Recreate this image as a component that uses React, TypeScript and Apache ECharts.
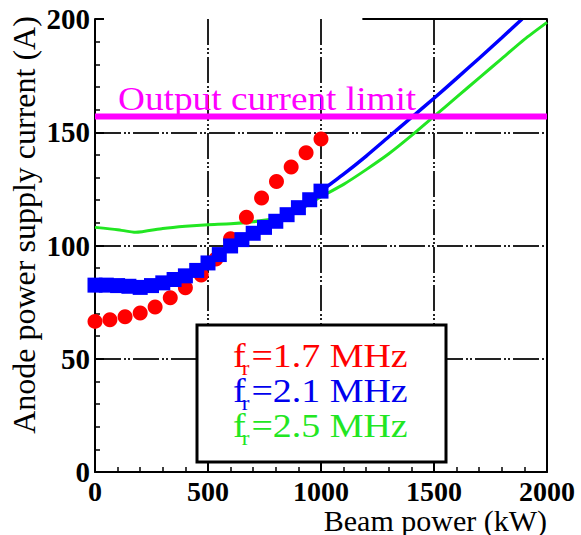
import React, { useEffect, useRef } from "react";
import * as echarts from "echarts";

// ---- data ----
const xTicks = [0, 500, 1000, 1500, 2000];
const yTicks = [0, 50, 100, 150, 200];

const redX = [0, 66, 133, 200, 266, 333, 400, 470, 535, 600, 670, 737, 803, 868, 934, 1000];
const redY = [66.5, 67.2, 68.5, 70.2, 72.9, 76.9, 81.3, 87, 94, 103, 112.5, 121, 128.3, 134.7, 141, 147];

const blueSqX = [0, 50, 100, 150, 200, 250, 300, 350, 400, 450, 500, 550, 600, 650, 700, 750, 800, 850, 900, 950, 1000];
const blueSqY = [82.5, 82.5, 82.3, 82, 81.5, 82.3, 83.5, 85, 86.6, 89, 92.3, 96, 99.8, 102.6, 105.4, 108, 110.7, 113.6, 116.7, 120.2, 124];

const blueLineX = [1000, 1100, 1200, 1300, 1400, 1500, 1600, 1700, 1800, 1890];
const blueLineY = [124, 131.5, 139.5, 148, 156.5, 165, 173.8, 182.7, 191.7, 200];

const greenX = [0, 100, 180, 300, 400, 500, 600, 700, 800, 900, 1000, 1100, 1200, 1300, 1400, 1500, 1600, 1700, 1800, 1900, 2000];
const greenY = [108, 107, 105.8, 107.5, 108.5, 109.2, 109.6, 110.5, 112, 115.5, 121.5, 127, 133.5, 140.5, 148.5, 157, 165.5, 174, 182.5, 191, 198.5];

const limitX = [0, 2000];
const limitY = [157, 157];
const limitLabel = "Output current limit";

const topBorderX = [1183, 2000];

const legendLabels = ["=1.7 MHz", "=2.1 MHz", "=2.5 MHz"];
const legendColors = ["#ff0000", "#0000ee", "#22e622"];

const xTitle = "Beam power (kW)";
const yTitle = "Anode power supply current (A)";

const pairs = (xs: number[], ys: number[]) => xs.map((x, i) => [x, ys[i]]);

const SERIF = "'Liberation Serif', 'Times New Roman', serif";

export default function App() {
  const ref = useRef<HTMLDivElement>(null);
  useEffect(() => {
    if (!ref.current) return;
    const chart = echarts.init(ref.current, undefined, { renderer: "svg" });

    const gridLine = { color: "#222", width: 2, type: [26, 3, 2, 2, 2, 3] as any };

    const legendGraphics: any[] = [
      {
        type: "rect",
        shape: { x: 197, y: 325, width: 249, height: 137 },
        style: { fill: "#fff", stroke: "#000", lineWidth: 3 },
        z: 100,
      },
    ];
    legendLabels.forEach((lab, i) => {
      const yb = 367 + i * 35;
      legendGraphics.push({
        type: "group",
        x: 233,
        y: yb,
        scaleX: 1.15,
        z: 101,
        children: [
          { type: "text", x: 0, y: -11, z: 101, style: { text: "f", font: `33px ${SERIF}`, lineHeight: 26, fill: legendColors[i], verticalAlign: "middle", align: "left" } },
          { type: "text", x: 7.5, y: 2, z: 101, style: { text: "r", font: `20px ${SERIF}`, lineHeight: 16, fill: legendColors[i], verticalAlign: "middle", align: "left" } },
          { type: "text", x: 16, y: -11, z: 101, style: { text: lab, font: `33px ${SERIF}`, lineHeight: 26, fill: legendColors[i], verticalAlign: "middle", align: "left" } },
        ],
      });
    });

    chart.setOption({
      animation: false,
      grid: { left: 95, right: 34, top: 19, bottom: 63, containLabel: false, outerBoundsMode: "none" } as any,
      xAxis: {
        type: "value",
        min: xTicks[0],
        max: xTicks[xTicks.length - 1],
        interval: xTicks[1] - xTicks[0],
        axisLine: { show: true, onZero: false, lineStyle: { color: "#000", width: 2 } },
        axisTick: { show: true, inside: true, length: 9, lineStyle: { color: "#000", width: 2 } },
        minorTick: { show: true, splitNumber: 5, length: 5, lineStyle: { color: "#000", width: 1.5 } },
        axisLabel: {
          fontFamily: SERIF,
          fontWeight: "bold",
          fontSize: 28,
          lineHeight: 22,
          color: "#000",
          margin: 8,
          formatter: (v: number) => String(v),
        },
        splitLine: { show: true, showMinLine: false, showMaxLine: false, lineStyle: gridLine } as any,
      },
      yAxis: [
        {
          type: "value",
          min: yTicks[0],
          max: yTicks[yTicks.length - 1],
          interval: yTicks[1] - yTicks[0],
          axisLine: { show: true, onZero: false, lineStyle: { color: "#000", width: 2 } },
          axisTick: { show: true, inside: true, length: 9, lineStyle: { color: "#000", width: 2 } },
          minorTick: { show: true, splitNumber: 5, length: 5, lineStyle: { color: "#000", width: 1.5 } },
          axisLabel: {
            fontFamily: SERIF,
            fontWeight: "bold",
            fontSize: 29,
            lineHeight: 24,
            color: "#000",
            margin: 5,
            formatter: (v: number) => String(v),
          },
          splitLine: { show: true, showMinLine: false, showMaxLine: false, lineStyle: gridLine } as any,
        },
        {
          type: "value",
          position: "right",
          min: yTicks[0],
          max: yTicks[yTicks.length - 1],
          interval: yTicks[1] - yTicks[0],
          axisLine: { show: true, onZero: false, lineStyle: { color: "#000", width: 2 } },
          axisTick: { show: false },
          axisLabel: { show: false },
          splitLine: { show: false },
        },
      ],
      series: [
        {
          name: "2.5 MHz",
          type: "line",
          data: pairs(greenX, greenY),
          showSymbol: false,
          smooth: 0.2,
          lineStyle: { color: legendColors[2], width: 3 },
          z: 2,
        },
        {
          name: "1.7 MHz",
          type: "scatter",
          data: pairs(redX, redY),
          symbol: "circle",
          symbolSize: 15,
          itemStyle: { color: "#ff0000", opacity: 1 },
          z: 3,
        },
        {
          name: "2.1 MHz line",
          type: "line",
          data: pairs(blueLineX, blueLineY),
          showSymbol: false,
          smooth: 0.2,
          lineStyle: { color: "#0000ff", width: 3.5 },
          z: 4,
        },
        {
          name: "2.1 MHz",
          type: "scatter",
          data: pairs(blueSqX, blueSqY),
          symbol: "rect",
          symbolSize: 15,
          itemStyle: { color: "#0000ff", opacity: 1 },
          z: 5,
        },
        {
          name: "limit",
          type: "line",
          data: pairs(limitX, limitY),
          showSymbol: false,
          lineStyle: { color: "#ff00ff", width: 6 },
          z: 6,
          markLine: {
            silent: true,
            symbol: "none",
            label: { show: false },
            lineStyle: { color: "#000", width: 2, type: "solid" },
            data: [[{ coord: [topBorderX[0], yTicks[yTicks.length - 1]] }, { coord: [topBorderX[1], yTicks[yTicks.length - 1]] }]],
          },
        },
      ],
      graphic: [
        {
          type: "text",
          x: 118,
          y: 99,
          scaleX: 1.13,
          z: 50,
          style: { text: limitLabel, font: `33px ${SERIF}`, lineHeight: 26, fill: "#ff00ff", verticalAlign: "middle", align: "left" },
        },
        {
          type: "text",
          x: 24,
          y: 225,
          rotation: Math.PI / 2,
          style: { text: yTitle, font: `32px ${SERIF}`, lineHeight: 28, fill: "#000", verticalAlign: "middle", align: "center" },
        },
        {
          type: "text",
          x: 547,
          y: 520,
          style: { text: xTitle, font: `30px ${SERIF}`, lineHeight: 22, fill: "#000", verticalAlign: "middle", align: "right" },
        },
        ...legendGraphics,
      ],
    });
    return () => chart.dispose();
  }, []);
  return <div ref={ref} style={{ position: "absolute", left: 0, top: 0, width: 581, height: 535 }} />;
}
